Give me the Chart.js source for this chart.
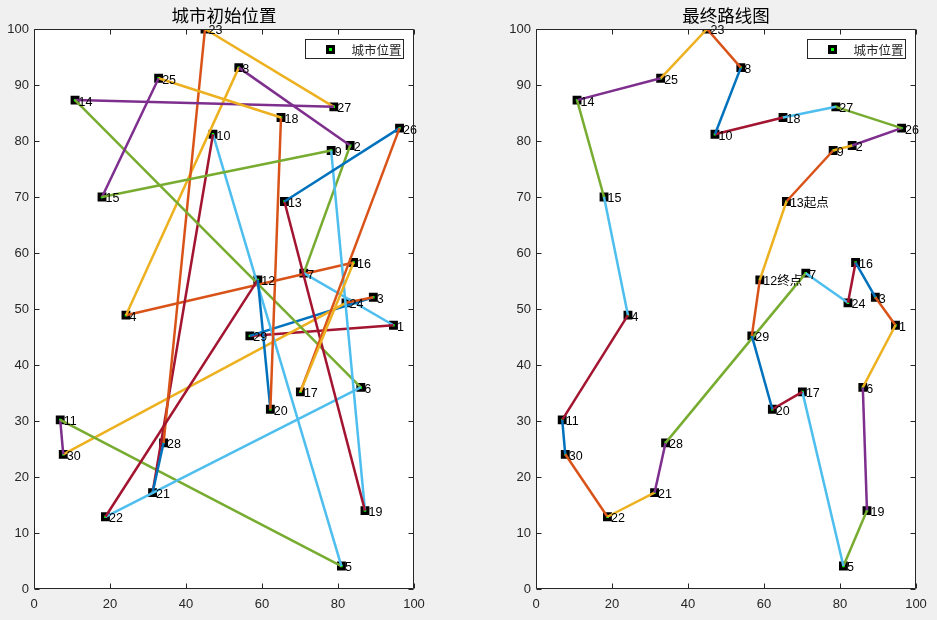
<!DOCTYPE html>
<html><head><meta charset="utf-8">
<script src="https://cdn.jsdelivr.net/npm/chart.js@4.4.0/dist/chart.umd.min.js"></script>
<style>
html,body{margin:0;padding:0;background:#f0f0f0;width:937px;height:620px;overflow:hidden}
canvas{position:absolute;top:0}
#c1{left:0}
#c2{left:468px}
</style></head><body>
<canvas id="c1" width="468" height="620" style="width:468px;height:620px"></canvas>
<canvas id="c2" width="469" height="620" style="width:469px;height:620px"></canvas>
<script>
// city coordinates (city n is index n-1)
const cityX = [94.6, 83.2, 89.3, 24.2, 80.9, 86.0, 71.0, 53.9, 78.2, 47.1,
               6.9, 58.9, 65.9, 10.8, 17.9, 84.1, 70.1, 65.0, 87.1, 62.2,
               31.2, 18.8, 45.0, 82.1, 32.8, 96.2, 78.9, 34.1, 56.8, 7.7];
const cityY = [47.1, 79.2, 52.1, 48.9, 4.1, 36.0, 56.4, 93.1, 78.3, 81.2,
               30.2, 55.2, 69.2, 87.3, 70.0, 58.3, 35.2, 84.2, 14.0, 32.1,
               17.2, 12.9, 100.0, 51.1, 91.2, 82.3, 86.1, 26.1, 45.2, 24.05];
const initialRoute = [16,4,8,2,7,1,29,3,24,30,11,5,10,21,28,23,27,14,6,22,12,20,18,25,15,9,19,13,26,17,16];
const finalRoute = [13,9,2,26,27,18,10,8,23,25,14,15,4,11,30,22,21,28,7,24,16,3,1,6,19,5,17,20,29,12,13];
const xTicks = [0,20,40,60,80,100];
const yTicks = [0,10,20,30,40,50,60,70,80,90,100];
const titles = ['城市初始位置','最终路线图'];
const legendLabel = '城市位置';
const startLabel = '起点';
const endLabel = '终点';
const colorOrder = ['#0072BD','#D95319','#EDB120','#7E2F8E','#77AC30','#4DBEEE','#A2142F'];

const LATIN = '"Liberation Sans", Arial, sans-serif';
const CJK = '"Liberation Sans", "Noto Sans CJK SC", sans-serif';

function makeChart(canvasId, route, title, padLeft, padRight, withStartEnd) {
  const cities = cityX.map((x, i) => ({x: x, y: cityY[i]}));
  const routePts = route.map(n => ({x: cityX[n-1], y: cityY[n-1]}));
  const extraLabels = {};
  if (withStartEnd) {
    extraLabels[route[0]] = startLabel;
    extraLabels[route[route.length-2]] = endLabel;
  }
  const deco = {
    id: 'deco',
    beforeDraw(chart) {
      const {ctx, chartArea: a} = chart;
      ctx.save();
      ctx.fillStyle = '#ffffff';
      ctx.fillRect(a.left, a.top, a.right - a.left, a.bottom - a.top);
      ctx.restore();
    },
    afterDatasetsDraw(chart) {
      const {ctx, chartArea: a, scales} = chart;
      ctx.save();
      // point labels
      ctx.fillStyle = '#000';
      ctx.font = '12.5px ' + CJK;
      ctx.textBaseline = 'middle';
      ctx.textAlign = 'left';
      cities.forEach((p, i) => {
        const px = scales.x.getPixelForValue(p.x);
        const py = scales.y.getPixelForValue(p.y);
        const txt = String(i + 1) + (extraLabels[i+1] || '');
        ctx.fillText(txt, px + 3.5, py + 2);
      });
      // box + ticks
      ctx.strokeStyle = '#262626';
      ctx.lineWidth = 1;
      const L = Math.round(a.left) + 0.5, R = Math.round(a.right) - 0.5;
      const T = Math.round(a.top) + 0.5, B = Math.round(a.bottom) - 0.5;
      ctx.beginPath();
      ctx.rect(L, T, R - L, B - T);
      const tl = 5;
      xTicks.forEach(v => {
        const px = Math.round(scales.x.getPixelForValue(v)) + 0.5;
        ctx.moveTo(px, B); ctx.lineTo(px, B - tl);
        ctx.moveTo(px, T); ctx.lineTo(px, T + tl);
      });
      yTicks.forEach(v => {
        const py = Math.round(scales.y.getPixelForValue(v)) + 0.5;
        ctx.moveTo(L, py); ctx.lineTo(L + tl, py);
        ctx.moveTo(R, py); ctx.lineTo(R - tl, py);
      });
      ctx.stroke();
      // legend
      const lw = 98, lh = 19;
      const lx = Math.round(a.right) - 11 - lw + 0.5, ly = Math.round(a.top) + 10 + 0.5;
      ctx.fillStyle = '#fff';
      ctx.fillRect(lx, ly, lw, lh);
      ctx.strokeStyle = '#262626';
      ctx.strokeRect(lx, ly, lw, lh);
      const mx = Math.round(lx + 24), my = Math.round(ly + lh / 2);
      ctx.fillStyle = '#000';
      ctx.fillRect(mx - 4, my - 4, 9, 9);
      ctx.fillStyle = '#00ff00';
      ctx.fillRect(mx - 1, my - 1, 3, 3);
      ctx.fillStyle = '#262626';
      ctx.font = '12.5px "Noto Sans CJK SC", sans-serif';
      ctx.textBaseline = 'middle';
      ctx.fillText(legendLabel, lx + 46, my + 1);
      // title
      ctx.fillStyle = '#000';
      ctx.font = '17.5px "Noto Sans CJK SC", sans-serif';
      ctx.textAlign = 'center';
      ctx.fillText(title, (a.left + a.right) / 2, 15);
      ctx.restore();
    }
  };
  return new Chart(document.getElementById(canvasId), {
    type: 'scatter',
    data: {
      datasets: [
        {
          type: 'line',
          data: routePts,
          showLine: true,
          pointRadius: 0,
          borderWidth: 2.5,
          tension: 0,
          fill: false,
          borderColor: colorOrder[1],
          segment: { borderColor: c => colorOrder[(c.p0DataIndex + 1) % colorOrder.length] },
          order: 0
        },
        {
          data: cities,
          pointStyle: 'rect',
          pointRadius: 4,
          borderWidth: 3.2,
          borderColor: '#000',
          backgroundColor: '#00ff00',
          order: 1
        }
      ]
    },
    options: {
      responsive: false,
      animation: false,
      events: [],
      layout: { padding: { left: padLeft, right: padRight, top: 29, bottom: 0 } },
      plugins: { legend: { display: false }, tooltip: { enabled: false }, title: { display: false } },
      scales: {
        x: {
          type: 'linear', min: 0, max: 100,
          afterBuildTicks: s => { s.ticks = xTicks.map(v => ({value: v})); },
          afterFit: s => { s.height = 31; },
          grid: { display: false, drawTicks: false, tickLength: 0 }, border: { display: false },
          ticks: { padding: 8, color: '#262626', font: { family: LATIN, size: 13 }, maxRotation: 0 }
        },
        y: {
          type: 'linear', min: 0, max: 100,
          afterBuildTicks: s => { s.ticks = yTicks.map(v => ({value: v})); },
          afterFit: s => { s.width = 34; },
          grid: { display: false, drawTicks: false, tickLength: 0 }, border: { display: false },
          ticks: { padding: 5, color: '#262626', font: { family: LATIN, size: 13 } }
        }
      }
    },
    plugins: [deco]
  });
}

makeChart('c1', initialRoute, titles[0], 0, 54, false);
makeChart('c2', finalRoute, titles[1], 34, 21, true);
</script>
</body></html>
